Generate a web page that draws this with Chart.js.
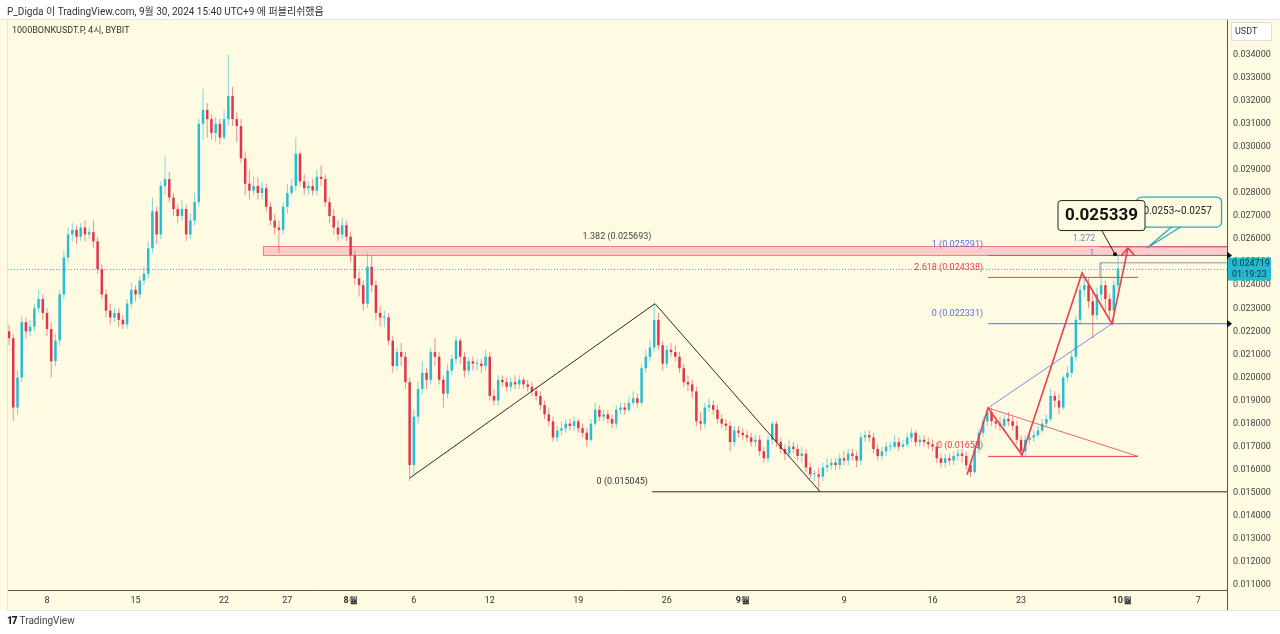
<!DOCTYPE html>
<html>
<head>
<meta charset="utf-8">
<script src="https://cdn.jsdelivr.net/npm/chart.js@4"></script>
<style>
  html, body { margin: 0; padding: 0; background: #fff; }
  body { width: 1280px; height: 634px; position: relative; overflow: hidden; font-family: Roboto, "Noto Sans CJK KR", sans-serif; }
  #chart { position: absolute; left: 0; top: 0; }
  .txt { position: absolute; color: #333; white-space: nowrap; }
  #head { left: 7px; top: 3px; font-size: 10px; }
  #sym { left: 12px; top: 23px; font-size: 9px; }
  #foot { left: 7px; top: 615px; font-size: 10px; color: #444; }
  #foot b { font-weight: 900; letter-spacing: -1px; margin-right: 3px; color: #222; }
</style>
</head>
<body>
<canvas id="chart" width="1280" height="634"></canvas>
<div class="txt" id="head">P_Digda 이 TradingView.com, 9월 30, 2024 15:40 UTC+9 에 퍼블리쉬했음</div>
<div class="txt" id="sym">1000BONKUSDT.P, 4시, BYBIT</div>
<div class="txt" id="foot"><b>17</b>TradingView</div>
<script>
// candles, 8h apart, starting 7/5
const candleStepDays = 1 / 3;

const opens = [
  .0220,.0217,.0187,.0200,.0224,.0220,.0222,.0230,.0234,.0228,.0221,.0207,
  .0216,.0236,.0252,.0262,.0264,.0261,.0265,.0262,.0263,.0259,.0247,.0236,
  .0229,.0226,.0228,.0225,.0223,.0232,.0238,.0236,.0242,.0245,.0256,.0272,
  .0262,.0283,.0286,.0278,.0273,.0270,.0273,.0262,.0268,.0276,.0310,.0316,
  .0312,.0306,.0310,.0304,.0312,.0322,.0312,.0309,.0295,.0284,.0281,.0283,
  .0280,.0282,.0274,.0268,.0265,.0264,.0274,.0280,.0283,.0297,.0285,.0282,
  .0283,.0281,.0287,.0286,.0276,.0270,.0265,.0262,.0266,.0261,.0253,.0243,
  .0240,.0232,.0248,.0240,.0228,.0226,.0226,.0216,.0205,.0211,.0209,.0198,
  .0162,.0183,.0195,.0202,.0199,.0211,.0209,.0199,.0193,.0203,.0208,.0216,
  .0209,.0203,.0207,.0206,.0206,.0205,.0209,.0192,.0190,.0199,.0198,.0196,
  .0198,.0197,.0199,.0197,.0196,.0194,.0192,.0188,.0184,.0181,.0174,.0177,
  .0178,.0180,.0179,.0181,.0178,.0176,.0173,.0180,.0186,.0183,.0184,.0182,
  .0180,.0186,.0187,.0186,.0189,.0191,.0189,.0204,.0209,.0213,.0225,.0214,
  .0206,.0212,.0211,.0209,.0204,.0198,.0197,.0194,.0181,.0180,.0187,.0188,
  .0186,.0182,.0180,.0179,.0172,.0177,.0176,.0175,.0174,.0172,.0173,.0168,
  .0165,.0173,.0180,.0172,.0169,.0167,.0170,.0169,.0166,.0167,.0161,.0158,
  .0158,.0157,.0161,.0162,.0163,.0162,.0165,.0164,.0167,.0166,.0164,.0174,
  .0175,.0174,.0169,.0166,.0168,.0170,.0170,.0172,.0170,.0171,.0174,.0176,
  .0172,.0173,.0172,.0171,.0170,.0165,.0163,.0165,.0164,.0166,.0167,.0166,
  .0162,.0159,.0169,.0176,.0181,.0185,.0181,.0180,.0179,.0182,.0181,.0179,
  .0173,.0168,.0173,.0174,.0175,.0177,.0180,.0182,.0192,.0190,.0187,.0200,
  .0202,.0209,.0225,.0238,.0240,.0233,.0227,.0236,.0240,.0234,.0229,.0240
];
const highs = [
  .0223,.0219,.0203,.0227,.0226,.0225,.0232,.0238,.0236,.0230,.0224,.0219,
  .0238,.0255,.0265,.0267,.0266,.0267,.0268,.0265,.0268,.0261,.0249,.0238,
  .0232,.0230,.0230,.0227,.0234,.0241,.0240,.0244,.0248,.0259,.0278,.0274,
  .0285,.0296,.0289,.0280,.0275,.0277,.0275,.0271,.0280,.0312,.0325,.0319,
  .0314,.0313,.0312,.0316,.0340,.0326,.0315,.0312,.0298,.0290,.0287,.0287,
  .0285,.0284,.0276,.0271,.0268,.0276,.0284,.0286,.0304,.0298,.0288,.0285,
  .0286,.0290,.0292,.0288,.0278,.0273,.0268,.0269,.0268,.0263,.0255,.0246,
  .0242,.0254,.0253,.0242,.0231,.0229,.0228,.0218,.0213,.0215,.0211,.0200,
  .0186,.0198,.0207,.0204,.0213,.0217,.0211,.0201,.0206,.0210,.0218,.0217,
  .0211,.0209,.0209,.0208,.0208,.0212,.0211,.0195,.0201,.0201,.0200,.0200,
  .0201,.0201,.0200,.0199,.0198,.0196,.0194,.0190,.0187,.0183,.0179,.0181,
  .0182,.0182,.0183,.0182,.0180,.0178,.0182,.0189,.0188,.0186,.0186,.0184,
  .0188,.0189,.0189,.0192,.0194,.0193,.0206,.0212,.0216,.0232,.0228,.0216,
  .0214,.0215,.0214,.0211,.0206,.0201,.0199,.0196,.0185,.0189,.0191,.0190,
  .0188,.0184,.0182,.0181,.0179,.0179,.0178,.0177,.0176,.0175,.0175,.0170,
  .0175,.0181,.0181,.0174,.0171,.0173,.0172,.0171,.0170,.0169,.0163,.0160,
  .0161,.0163,.0165,.0165,.0165,.0167,.0168,.0169,.0169,.0168,.0176,.0177,
  .0177,.0176,.0171,.0170,.0172,.0172,.0175,.0174,.0173,.0176,.0178,.0177,
  .0175,.0175,.0174,.0173,.0172,.0167,.0167,.0167,.0168,.0169,.0169,.0168,
  .0164,.0171,.0178,.0183,.0187,.0187,.0183,.0183,.0184,.0185,.0183,.0181,
  .0175,.0175,.0176,.0177,.0179,.0182,.0184,.0195,.0194,.0193,.0201,.0205,
  .0211,.0227,.0240,.02443,.0243,.0238,.0239,.0250,.0242,.0236,.0242,.025339
];
const lows = [
  .0214,.0181,.0184,.0198,.0217,.0218,.0220,.0228,.0225,.0218,.0200,.0205,
  .0214,.0234,.0250,.0259,.0258,.0259,.0259,.0260,.0256,.0245,.0234,.0226,
  .0223,.0224,.0222,.0221,.0221,.0230,.0233,.0234,.0240,.0243,.0254,.0258,
  .0260,.0279,.0276,.0270,.0267,.0268,.0259,.0260,.0266,.0274,.0303,.0304,
  .0303,.0302,.0301,.0303,.0309,.0309,.0302,.0293,.0279,.0277,.0279,.0277,
  .0277,.0272,.0266,.0262,.0254,.0262,.0271,.0279,.0281,.0283,.0279,.0279,
  .0279,.0279,.0283,.0274,.0267,.0262,.0259,.0260,.0259,.0250,.0240,.0235,
  .0229,.0230,.0237,.0225,.0222,.0222,.0214,.0202,.0203,.0205,.0195,.0155,
  .0158,.0180,.0193,.0195,.0197,.0205,.0197,.0187,.0191,.0201,.0206,.0206,
  .0200,.0201,.0203,.0203,.0202,.0203,.0190,.0188,.0188,.0196,.0194,.0194,
  .0195,.0195,.0195,.0194,.0192,.0190,.0186,.0182,.0179,.0172,.0172,.0175,
  .0176,.0177,.0177,.0176,.0174,.0170,.0172,.0179,.0181,.0181,.0180,.0178,
  .0178,.0184,.0184,.0185,.0188,.0187,.0188,.0202,.0207,.0211,.0212,.0203,
  .0204,.0209,.0207,.0202,.0196,.0194,.0191,.0179,.0177,.0178,.0185,.0184,
  .0180,.0178,.0177,.0168,.0170,.0174,.0173,.0172,.0170,.0170,.0166,.0163,
  .0163,.0171,.0170,.0167,.0164,.0165,.0167,.0164,.0163,.0159,.0156,.0155,
  .01505,.0155,.0159,.0160,.0160,.0160,.0162,.0162,.0164,.0161,.0162,.0172,
  .0172,.0167,.0164,.0164,.0166,.0168,.0169,.0168,.0169,.0170,.0172,.0170,
  .0170,.0170,.0169,.0168,.0163,.0161,.0161,.0162,.0162,.0164,.0163,.0160,
  .0157,.0158,.0167,.0174,.0179,.0179,.0178,.0177,.0177,.0179,.0177,.0171,
  .0166,.0166,.0171,.0172,.0174,.0176,.0179,.0181,.0187,.0184,.0186,.0198,
  .0200,.0207,.0223,.0235,.0230,.0217,.0225,.0233,.0228,.0226,.02233,.0238
];
const closes = [
  .0217,.0187,.0200,.0224,.0220,.0222,.0230,.0234,.0228,.0221,.0207,.0216,
  .0236,.0252,.0262,.0264,.0261,.0265,.0262,.0263,.0259,.0247,.0236,.0229,
  .0226,.0228,.0225,.0223,.0232,.0238,.0236,.0242,.0245,.0256,.0272,.0262,
  .0283,.0286,.0278,.0273,.0270,.0273,.0262,.0268,.0276,.0310,.0316,.0312,
  .0306,.0310,.0304,.0312,.0322,.0312,.0309,.0295,.0284,.0281,.0283,.0280,
  .0282,.0274,.0268,.0265,.0264,.0274,.0280,.0283,.0297,.0285,.0282,.0283,
  .0281,.0287,.0286,.0276,.0270,.0265,.0262,.0266,.0261,.0253,.0243,.0240,
  .0232,.0248,.0240,.0228,.0226,.0226,.0216,.0205,.0211,.0209,.0198,.0162,
  .0183,.0195,.0202,.0199,.0211,.0209,.0199,.0193,.0203,.0208,.0216,.0209,
  .0203,.0207,.0206,.0206,.0205,.0209,.0192,.0190,.0199,.0198,.0196,.0198,
  .0197,.0199,.0197,.0196,.0194,.0192,.0188,.0184,.0181,.0174,.0177,.0178,
  .0180,.0179,.0181,.0178,.0176,.0173,.0180,.0186,.0183,.0184,.0182,.0180,
  .0186,.0187,.0186,.0189,.0191,.0189,.0204,.0209,.0213,.0225,.0214,.0206,
  .0212,.0211,.0209,.0204,.0198,.0197,.0194,.0181,.0180,.0187,.0188,.0186,
  .0182,.0180,.0179,.0172,.0177,.0176,.0175,.0174,.0172,.0173,.0168,.0165,
  .0173,.0180,.0172,.0169,.0167,.0170,.0169,.0166,.0167,.0161,.0158,.0158,
  .0157,.0161,.0162,.0163,.0162,.0165,.0164,.0167,.0166,.0164,.0174,.0175,
  .0174,.0169,.0166,.0168,.0170,.0170,.0172,.0170,.0171,.0174,.0176,.0172,
  .0173,.0172,.0171,.0170,.0165,.0163,.0165,.0164,.0166,.0167,.0166,.0162,
  .0159,.0169,.0176,.0181,.0185,.0181,.0180,.0179,.0182,.0181,.0179,.0173,
  .0168,.0173,.0174,.0175,.0177,.0180,.0182,.0192,.0190,.0187,.0200,.0202,
  .0209,.0225,.0238,.0240,.0233,.0227,.0236,.0240,.0234,.0229,.0240,.024719
];

// x ticks in days from 7/5
const xTickDays = [3, 10, 17, 22, 27, 32, 38, 45, 52, 58, 66, 73, 80, 88, 94];
const xTickLabels = ['8', '15', '22', '27', '8월', '6', '12', '19', '26', '9월', '9', '16', '23', '10월', '7'];
const yTicks = [0.011, 0.012, 0.013, 0.014, 0.015, 0.016, 0.017, 0.018, 0.019, 0.020, 0.021, 0.022,
  0.023, 0.024, 0.025, 0.026, 0.027, 0.028, 0.029, 0.030, 0.031, 0.032, 0.033, 0.034];

const lastPrice = 0.024719;
const countdown = '01:19:23';

const BG = '#fffbe3';
const UP = '#27bdd2', DOWN = '#e2344a';
const UP_WICK = 'rgba(39,189,210,0.6)', DOWN_WICK = 'rgba(226,52,74,0.55)';
const BLUE = '#5b6ee1', RED = '#e8404e';
const FONT = 'Roboto, sans-serif';
const END = 96.4;

const isUp = i => closes[i] >= opens[i];

const drawings = {
  id: 'drawings',
  beforeDraw(chart) {
    const { ctx, chartArea: a } = chart;
    ctx.save();
    ctx.fillStyle = '#fff';
    ctx.fillRect(0, 0, chart.width, chart.height);
    ctx.fillStyle = BG;
    ctx.fillRect(0, a.top, chart.width, a.bottom + 20 - a.top);
    ctx.restore();
  },
  beforeDatasetsDraw(chart) {
    const { ctx, chartArea: a, scales: { x, y } } = chart;
    const X = v => x.getPixelForValue(v), Y = v => y.getPixelForValue(v);
    ctx.save();
    ctx.beginPath(); ctx.rect(a.left, a.top, a.right - a.left, a.bottom - a.top); ctx.clip();
    // 0.0253 ~ 0.0257 zone
    const zx = X(20.07), zt = Y(0.0257), zb = Y(0.02531);
    ctx.fillStyle = 'rgba(250,170,175,0.55)';
    ctx.fillRect(zx, zt, a.right - zx, zb - zt);
    ctx.strokeStyle = 'rgba(235,100,115,0.8)';
    ctx.lineWidth = 1;
    ctx.strokeRect(zx + 0.5, zt + 0.5, a.right - zx, zb - zt);
    // current price dotted line
    ctx.setLineDash([1, 2]);
    ctx.strokeStyle = '#3bb6c6';
    ctx.beginPath(); ctx.moveTo(a.left, Math.round(Y(lastPrice)) + 0.5); ctx.lineTo(a.right, Math.round(Y(lastPrice)) + 0.5); ctx.stroke();
    ctx.restore();
  },
  afterDatasetsDraw(chart) {
    const { ctx, chartArea: a, scales: { x, y } } = chart;
    const X = v => x.getPixelForValue(v), Y = v => y.getPixelForValue(v);
    ctx.save();
    ctx.beginPath(); ctx.rect(a.left, a.top, a.right - a.left, a.bottom - a.top); ctx.clip();
    const line = (pts, color, w) => {
      ctx.beginPath();
      pts.forEach(([d, p], i) => i ? ctx.lineTo(X(d), Y(p)) : ctx.moveTo(X(d), Y(p)));
      ctx.strokeStyle = color; ctx.lineWidth = w; ctx.stroke();
    };
    const label = (t, d, p, color, align) => {
      ctx.font = '9px ' + FONT;
      ctx.fillStyle = color; ctx.textAlign = align || 'right'; ctx.textBaseline = 'middle';
      ctx.fillText(t, X(d), Y(p));
    };

    // big swing
    line([[31.70, 0.01565], [51.06, 0.0232], [64.11, 0.01505]], '#2a2a2a', 1);
    line([[50.83, 0.015045], [END, 0.015045]], '#2a2a2a', 1);
    label('1.382 (0.025693)', 48.06, 0.02609, '#444', 'center');
    label('0 (0.015045)', 50.5, 0.01547, '#333');

    // fib levels on the right
    line([[77.39, 0.025291], [END, 0.025291]], BLUE, 1);
    line([[77.39, 0.022331], [END, 0.022331]], BLUE, 1);
    line([[77.39, 0.024338], [89.24, 0.024338]], RED, 1);
    line([[77.39, 0.01658], [89.24, 0.01658]], RED, 1);
    line([[77.39, 0.01868], [89.24, 0.01658]], RED, 0.8);
    line([[77.39, 0.01868], [87.19, 0.022331]], BLUE, 0.8);
    line([[86.24, 0.02566], [END, 0.02566]], '#c4609a', 1);
    line([[86.24, 0.02497], [END, 0.02497]], '#9090b0', 1);
    line([[86.24, 0.02497], [86.24, 0.02433]], '#9090b0', 1);
    label('1 (0.025291)', 77.0, 0.02574, BLUE);
    label('2.618 (0.024338)', 77.0, 0.02475, RED);
    label('0 (0.022331)', 77.0, 0.02276, BLUE);
    label('0 (0.01658)', 77.0, 0.01704, RED);
    label('1.272', 84.98, 0.0260, '#7a86c8', 'center');
    label('1', 85.6, 0.02535, '#7a86c8', 'center');

    // zigzag projection
    const zig = [[75.73, 0.01578], [77.39, 0.01868], [80.08, 0.01664], [84.82, 0.02453], [87.19, 0.022331], [88.45, 0.02561]];
    line(zig, RED, 1.6);
    const tx = X(88.45), ty = Y(0.02561);
    ctx.beginPath();
    ctx.moveTo(tx - 7, ty + 8); ctx.lineTo(tx, ty); ctx.lineTo(tx + 7, ty + 8);
    ctx.strokeStyle = RED; ctx.lineWidth = 1.6; ctx.stroke();
    ctx.restore();
  },
  afterDraw(chart) {
    const { ctx, chartArea: a, scales: { x, y } } = chart;
    const X = v => x.getPixelForValue(v), Y = v => y.getPixelForValue(v);
    ctx.save();
    // frame
    ctx.lineWidth = 1;
    ctx.strokeStyle = '#e2e2e2';
    ctx.beginPath();
    ctx.moveTo(0, a.top - 0.5); ctx.lineTo(chart.width, a.top - 0.5);
    ctx.moveTo(a.left - 0.5, a.top); ctx.lineTo(a.left - 0.5, a.bottom + 20);
    ctx.moveTo(a.left, a.bottom + 20.5); ctx.lineTo(chart.width, a.bottom + 20.5);
    ctx.stroke();
    ctx.strokeStyle = '#555';
    ctx.beginPath();
    ctx.moveTo(a.right + 0.5, a.top); ctx.lineTo(a.right + 0.5, a.bottom + 20);
    ctx.moveTo(a.left, a.bottom + 0.5); ctx.lineTo(a.right, a.bottom + 0.5);
    ctx.stroke();

    // USDT box
    ctx.fillStyle = '#fff'; ctx.strokeStyle = '#ddd';
    ctx.fillRect(a.right + 4, a.top + 2, 40, 18);
    ctx.strokeRect(a.right + 4.5, a.top + 2.5, 40, 18);
    ctx.fillStyle = '#333'; ctx.font = '9px ' + FONT; ctx.textAlign = 'left'; ctx.textBaseline = 'middle';
    ctx.fillText('USDT', a.right + 8, a.top + 11.5);

    // level markers on price axis
    [0.025291, 0.022331].forEach(p => {
      const yy = Y(p);
      ctx.beginPath(); ctx.moveTo(a.right, yy - 4); ctx.lineTo(a.right + 5, yy); ctx.lineTo(a.right, yy + 4); ctx.closePath();
      ctx.fillStyle = '#111'; ctx.fill();
    });

    // last price tag
    const ly = Y(lastPrice);
    ctx.fillStyle = '#27b9cd';
    ctx.fillRect(a.right + 1, ly - 11, 43, 23);
    ctx.fillStyle = '#0e3340'; ctx.font = '9px ' + FONT; ctx.textAlign = 'left';
    ctx.fillText(lastPrice.toFixed(6), a.right + 5, ly - 5);
    ctx.fillText(countdown, a.right + 5, ly + 6);

    // callout: target zone (drawn first, the price callout overlaps it)
    const px = X(89.96), py = Y(0.02561);
    const b2x = X(92.49) - 42.5, b2y = Y(0.02717) - 15;
    ctx.strokeStyle = '#2aa9ba'; ctx.lineWidth = 1.3;
    ctx.beginPath(); ctx.roundRect(b2x, b2y, 85, 30, 5);
    ctx.fillStyle = BG; ctx.fill(); ctx.stroke();
    ctx.beginPath();
    ctx.moveTo(b2x + 35, b2y + 30); ctx.lineTo(px, py); ctx.lineTo(b2x + 44, b2y + 30);
    ctx.stroke();
    ctx.fillStyle = '#222'; ctx.font = '10px ' + FONT; ctx.textAlign = 'left';
    ctx.fillText('0.0253~0.0257', b2x + 7, b2y + 14);

    // callout: top price
    const hx = X(87.43), hy = Y(0.025339);
    const b1x = X(86.32) - 43.5, b1y = Y(0.02704) - 15;
    ctx.strokeStyle = '#222'; ctx.lineWidth = 1;
    ctx.beginPath(); ctx.moveTo(b1x + 44, b1y + 30); ctx.lineTo(hx, hy); ctx.stroke();
    ctx.beginPath(); ctx.arc(hx, hy, 2, 0, Math.PI * 2); ctx.fillStyle = '#111'; ctx.fill();
    ctx.beginPath(); ctx.roundRect(b1x + 0.5, b1y + 0.5, 87, 30, 3);
    ctx.fillStyle = BG; ctx.fill(); ctx.stroke();
    ctx.fillStyle = '#111'; ctx.font = 'bold 17px ' + FONT; ctx.textAlign = 'center';
    ctx.fillText('0.025339', b1x + 44, b1y + 16);
    ctx.restore();
  }
};

new Chart(document.getElementById('chart'), {
  type: 'bar',
  data: {
    datasets: [
      {
        label: 'body',
        data: closes.map((c, i) => ({ x: i * candleStepDays, y: [opens[i], c] })),
        backgroundColor: ctx => isUp(ctx.dataIndex) ? UP : DOWN,
        maxBarThickness: 2.5,
        minBarLength: 1,
        grouped: false,
        order: 0
      },
      {
        label: 'wick',
        data: highs.map((h, i) => ({ x: i * candleStepDays, y: [lows[i], h] })),
        backgroundColor: ctx => isUp(ctx.dataIndex) ? UP_WICK : DOWN_WICK,
        maxBarThickness: 1,
        grouped: false,
        order: 1
      }
    ]
  },
  options: {
    responsive: false,
    animation: false,
    layout: { padding: { left: 8, top: 20, right: 0, bottom: 24 } },
    plugins: { legend: { display: false }, tooltip: { enabled: false } },
    scales: {
      x: {
        type: 'linear',
        min: -0.083,
        max: 96.28,
        offset: false,
        grid: { display: false, drawTicks: false, offset: false },
        border: { display: false },
        afterBuildTicks: s => { s.ticks = xTickDays.map(v => ({ value: v })); },
        afterFit: s => { s.height = 20; },
        ticks: {
          autoSkip: false,
          maxRotation: 0,
          padding: 5,
          color: '#333',
          font: ctx => ({ family: FONT, size: 9, weight: (ctx.tick && String(ctx.tick.label).includes('월')) ? 'bold' : 'normal' }),
          callback: v => xTickLabels[xTickDays.indexOf(v)]
        }
      },
      y: {
        position: 'right',
        min: 0.010788,
        max: 0.0354955,
        grid: { display: false, drawTicks: false },
        border: { display: false },
        afterBuildTicks: s => { s.ticks = yTicks.map(v => ({ value: v })); },
        afterFit: s => { s.width = 53; },
        ticks: {
          padding: 6,
          color: '#444',
          font: { family: FONT, size: 9 },
          callback: v => v.toFixed(6)
        }
      }
    }
  },
  plugins: [drawings]
});
</script>
</body>
</html>
